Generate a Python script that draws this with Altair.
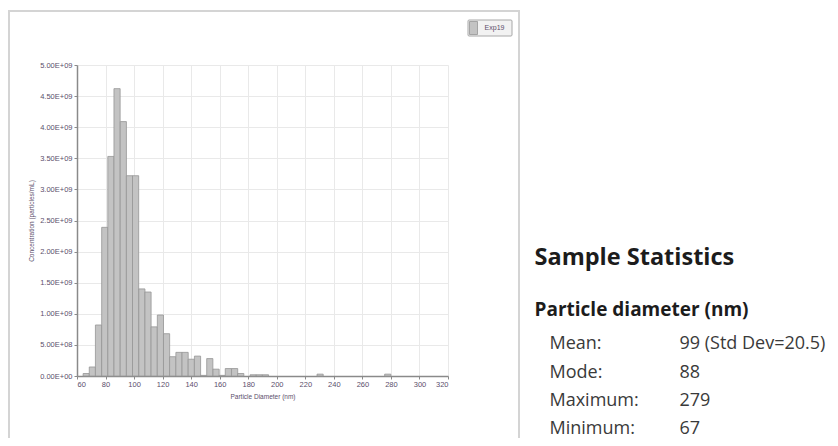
import altair as alt
import pandas as pd

# ---------------- data ----------------
bin_left = [64.3, 68.6, 72.9, 77.3, 81.6, 85.9, 90.3, 94.6, 98.9, 103.3,
            107.6, 111.9, 116.3, 120.6, 124.9, 129.3, 133.6, 137.9, 142.3, 146.6,
            150.9, 155.3, 159.6, 163.9, 168.3, 172.6, 181.3, 185.6, 189.9, 228.2,
            275.6]
concentration = [0.04e9, 0.145e9, 0.82e9, 2.39e9, 3.53e9, 4.62e9, 4.09e9, 3.22e9, 3.22e9, 1.40e9,
                 1.35e9, 0.79e9, 0.98e9, 0.68e9, 0.31e9, 0.38e9, 0.38e9, 0.27e9, 0.32e9, 0.01e9,
                 0.28e9, 0.11e9, 0.01e9, 0.12e9, 0.12e9, 0.04e9, 0.02e9, 0.02e9, 0.02e9, 0.03e9,
                 0.03e9]
BIN_W = 4.33

x_ticks = [60, 80, 100, 120, 140, 160, 180, 200, 220, 240, 260, 280, 300, 320]
y_ticks = [0, 0.5e9, 1.0e9, 1.5e9, 2.0e9, 2.5e9, 3.0e9, 3.5e9, 4.0e9, 4.5e9, 5.0e9]

series_name = "Exp19"
stats_title = "Sample Statistics"
stats_subtitle = "Particle diameter (nm)"
stat_labels = ["Mean:", "Mode:", "Maximum:", "Minimum:"]
stat_values = ["99 (Std Dev=20.5)", "88", "279", "67"]

# ---------------- chart ----------------
W, H = 371, 311
LABEL_COLOR = "#5b4e6b"
STAT_FONT = "Open Sans"

df = pd.DataFrame({
    "left": bin_left,
    "right": [b + BIN_W for b in bin_left],
    "conc": concentration,
})
one = pd.DataFrame({"k": [0]})

ylabel_expr = ("replace(replace(replace(format(datum.value, '.2e'), 'e+9', 'E+09'), "
               "'e+8', 'E+08'), 'e+0', 'E+00')")

bars = alt.Chart(df).mark_rect(
    fill="#c3c3c3", stroke="#959595", strokeWidth=0.8
).encode(
    x=alt.X("left:Q",
            scale=alt.Scale(domain=[60, 320], nice=False, zero=False),
            axis=alt.Axis(values=x_ticks, title="Particle Diameter (nm)",
                          format="d", titlePadding=6)),
    x2="right:Q",
    y=alt.Y("conc:Q",
            scale=alt.Scale(domain=[0, 5e9], nice=False),
            axis=alt.Axis(values=y_ticks, title="Concentration (particles/mL)",
                          labelExpr=ylabel_expr, titlePadding=5)),
    y2=alt.datum(0),
)

frame = alt.Chart(one).mark_rect(
    fill=None, stroke="#d4d4d4", strokeWidth=2
).encode(
    x=alt.value(-68), x2=alt.value(442), y=alt.value(-54), y2=alt.value(420)
)

legend_box = alt.Chart(one).mark_rect(
    fill="#f2f2f2", stroke="#a8a8a8", strokeWidth=1, cornerRadius=1
).encode(
    x=alt.value(391), x2=alt.value(435), y=alt.value(-45), y2=alt.value(-29)
)
legend_swatch = alt.Chart(one).mark_rect(
    fill="#c3c3c3", stroke="#959595", strokeWidth=0.8
).encode(
    x=alt.value(392.5), x2=alt.value(400.5), y=alt.value(-43.5), y2=alt.value(-30.5)
)
legend_text = alt.Chart(one).mark_text(
    font="Liberation Sans", fontSize=7, color=LABEL_COLOR, align="center", baseline="middle"
).encode(
    x=alt.value(417.5), y=alt.value(-37), text=alt.value(series_name)
)

layers = [frame, bars, legend_box, legend_swatch, legend_text]

TX = 457.5  # left of stats block (plot coordinates)
layers.append(alt.Chart(one).mark_text(
    font=STAT_FONT, fontSize=23.5, fontWeight="bold", color="#1c1c1c",
    align="left", baseline="alphabetic"
).encode(x=alt.value(TX), y=alt.value(200), text=alt.value(stats_title)))
layers.append(alt.Chart(one).mark_text(
    font=STAT_FONT, fontSize=19, fontWeight="bold", color="#1c1c1c",
    align="left", baseline="alphabetic"
).encode(x=alt.value(TX), y=alt.value(251), text=alt.value(stats_subtitle)))

row_base = [284, 312.5, 341, 369]
for lab, val, yb in zip(stat_labels, stat_values, row_base):
    layers.append(alt.Chart(one).mark_text(
        font=STAT_FONT, fontSize=18, color="#3a3a3a", align="left", baseline="alphabetic"
    ).encode(x=alt.value(TX + 15), y=alt.value(yb), text=alt.value(lab)))
    layers.append(alt.Chart(one).mark_text(
        font=STAT_FONT, fontSize=18, color="#3a3a3a", align="left", baseline="alphabetic"
    ).encode(x=alt.value(TX + 145), y=alt.value(yb), text=alt.value(val)))

chart = alt.layer(*layers).properties(
    width=W, height=H,
    autosize=alt.AutoSizeParams(type="none"),
    padding={"left": 69, "top": 57, "right": 382, "bottom": 62},
    background="white",
).configure_view(
    stroke=None
).configure_axis(
    domainColor="#8a8a8a", domainWidth=1.5,
    tickColor="#8a8a8a", tickSize=3, tickWidth=1,
    gridColor="#e9e9e9", gridWidth=1,
    labelFont="Liberation Sans", labelFontSize=7.5, labelColor=LABEL_COLOR,
    titleFont="Liberation Sans", titleFontSize=6.5, titleFontWeight="normal",
    titleColor=LABEL_COLOR,
).configure_axisX(
    labelPadding=1
).configure_axisY(
    labelPadding=2
)

chart.save("out.html", embed_options={"renderer": "svg", "actions": False})
